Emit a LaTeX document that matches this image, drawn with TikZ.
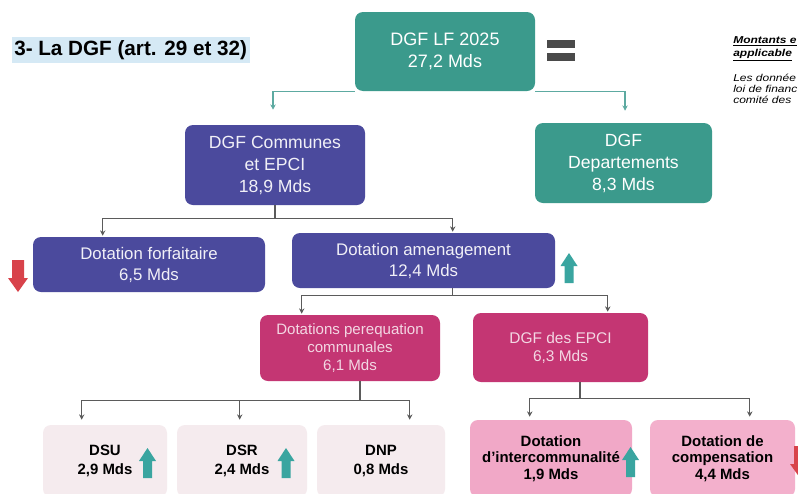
\documentclass[tikz,border=0pt]{standalone}
\usepackage{fontspec}
\setmainfont{Liberation Sans}
\usetikzlibrary{arrows.meta,calc}
\definecolor{teal1}{HTML}{3B9A8C}
\definecolor{purp}{HTML}{4B4A9D}
\definecolor{mag}{HTML}{C43673}
\definecolor{lpink}{HTML}{F5EBEE}
\definecolor{pink2}{HTML}{F1A8C7}
\definecolor{pink3}{HTML}{F3B0CC}
\definecolor{tarrow}{HTML}{3AA5A0}
\definecolor{rarrow}{HTML}{D8434B}
\definecolor{conn}{HTML}{5B5B5B}
\definecolor{tconn}{HTML}{5DAAA1}
\definecolor{hl}{HTML}{D5E9F5}
\definecolor{eqgray}{HTML}{4A4A4A}
\begin{document}
\begin{tikzpicture}[x=0.75pt,y=-0.75pt,
  box/.style={rounded corners=6pt, inner sep=0pt, align=center},
  wh/.style 2 args={minimum width=#1*0.75pt, minimum height=#2*0.75pt},
  tbox/.style={box, fill=teal1, text=white, font=\fontsize{13.5pt}{16.8pt}\selectfont},
  pbox/.style={box, fill=purp, text=white!92!purp, font=\fontsize{13.2pt}{16.5pt}\selectfont},
  pbox2/.style={box, fill=purp, text=white!92!purp, font=\fontsize{12.6pt}{15.75pt}\selectfont},
  mbox/.style={box, fill=mag, text=white!80!mag, font=\fontsize{11.3pt}{13.2pt}\selectfont},
  lbox/.style={box, fill=lpink, text=black, font=\fontsize{11.2pt}{14pt}\selectfont\bfseries},
  kbox/.style={box, text=black, font=\fontsize{11.2pt}{12.4pt}\selectfont\bfseries},
  tline/.style={draw=tconn, line width=1.1pt, -{Stealth[length=4pt,width=4pt]}},
  cline/.style={draw=conn, line width=1.1pt, -{Stealth[length=4pt,width=4pt]}},
  tup/.pic={\fill[tarrow] (-4.5,0) -- (4.5,0) -- (4.5,-17) -- (8.5,-17) -- (0,-30) -- (-8.5,-17) -- (-4.5,-17) -- cycle;},
  rdown/.pic={\fill[rarrow] (-6,-32) -- (6,-32) -- (6,-14) -- (10,-14) -- (0,0) -- (-10,-14) -- (-6,-14) -- cycle;},
  rtext/.style={anchor=base west, inner sep=0pt, font=\fontsize{7.5pt}{8pt}\selectfont\itshape\addfontfeature{FakeStretch=1.2}},
  rhead/.style={rtext, font=\fontsize{7.5pt}{8pt}\selectfont\bfseries\itshape\addfontfeature{FakeStretch=1.2}}
]
\useasboundingbox (0,0) rectangle (798,493);
\clip (0,0) rectangle (798,493);
\fill[white] (0,0) rectangle (798,493);

% title
\fill[hl] (12,37) rectangle (250,63);
\node[anchor=west, inner sep=0pt, font=\fontsize{15.5pt}{18pt}\selectfont\bfseries] (title) at (14,50) {3- La DGF (art. 29 et 32)};

% boxes
\node[tbox, wh={180}{79}] (top) at (445,51.5) {DGF LF 2025\\27,2 Mds};
\node[pbox, wh={180}{80}] (comm) at (275,165) {DGF Communes\\et EPCI\\18,9 Mds};
\node[tbox, wh={177}{80}, font=\fontsize{13.2pt}{16.5pt}\selectfont] (dep) at (623.5,163) {DGF\\Departements\\8,3 Mds};
\node[pbox2, wh={232}{55}] (forf) at (149,264.5) {Dotation forfaitaire\\6,5 Mds};
\node[pbox2, wh={263}{55}] (amen) at (423.5,260.5) {Dotation amenagement\\12,4 Mds};
\node[mbox, wh={180}{66}] (pereq) at (350,348) {Dotations perequation\\communales\\6,1 Mds};
\node[mbox, wh={175}{69}, font=\fontsize{11.6pt}{13.5pt}\selectfont] (epci) at (560.5,347.5) {DGF des EPCI\\6,3 Mds};
\node[lbox, wh={124}{72}] (dsu) at (105,461) {DSU\\2,9 Mds};
\node[lbox, wh={130}{72}] (dsr) at (242,461) {DSR\\2,4 Mds};
\node[lbox, wh={128}{72}] (dnp) at (381,461) {DNP\\0,8 Mds};
\node[kbox, fill=pink2, wh={162}{77}] (inter) at (551,458.5) {Dotation\\d'intercommunalité\\1,9 Mds};
\node[kbox, fill=pink3, wh={145}{77}] (comp) at (722.5,458.5) {Dotation de\\compensation\\4,4 Mds};

% equal sign
\fill[eqgray] (547,40) rectangle (575,48);
\fill[eqgray] (547,53) rectangle (575,61);

% connectors
\draw[tline] (top.south west) -| ($(comm.north)+(-2,-15)$);
\draw[tline] (top.south east) -| ($(dep.north)+(1.5,-12)$);
\draw[cline] (comm.south) -- ++(0,13) -| ($(forf.north west)+(70,-1)$);
\draw[cline] (comm.south) -- ++(0,13) -| ($(amen.north west)+(161,-1)$);
\draw[cline] ($(amen.south west)+(161,0)$) -- ++(0,7) -| ($(pereq.north west)+(42,-1)$);
\draw[cline] ($(amen.south west)+(161,0)$) -- ++(0,7) -| ($(epci.north west)+(135,-1)$);
\draw[cline] ($(pereq.south)+(10,0)$) -- ++(0,19) -| ($(dsu.north west)+(39,-5)$);
\draw[cline] ($(pereq.south)+(10,0)$) -- ++(0,19) -| ($(dsr.north west)+(63,-5)$);
\draw[cline] ($(pereq.south)+(10,0)$) -- ++(0,19) -| ($(dnp.north west)+(93,-5)$);
\draw[cline] ($(epci.south)+(19.5,0)$) -- ++(0,16) -| ($(inter.north west)+(60,-3)$);
\draw[cline] ($(epci.south)+(19.5,0)$) -- ++(0,16) -| ($(comp.north west)+(100,-3)$);

% trend arrows
\pic at (569,283) {tup};
\pic at (147.5,478) {tup};
\pic at (286,478) {tup};
\pic at (630.5,477) {tup};
\pic at (18,292) {rdown};
\pic at (800,478) {rdown};

% right side note (cut by the picture edge, as in the reference)
\node[rhead] (n1) at (733,43) {\underline{Montants e}};
\node[rhead] (n2) at (733,56) {\underline{applicable}};
\node[rtext] (n3) at (733,81) {Les donnée};
\node[rtext] (n4) at (733,92) {loi de financ};
\node[rtext] (n5) at (733,103) {comité des};
\end{tikzpicture}
\end{document}
